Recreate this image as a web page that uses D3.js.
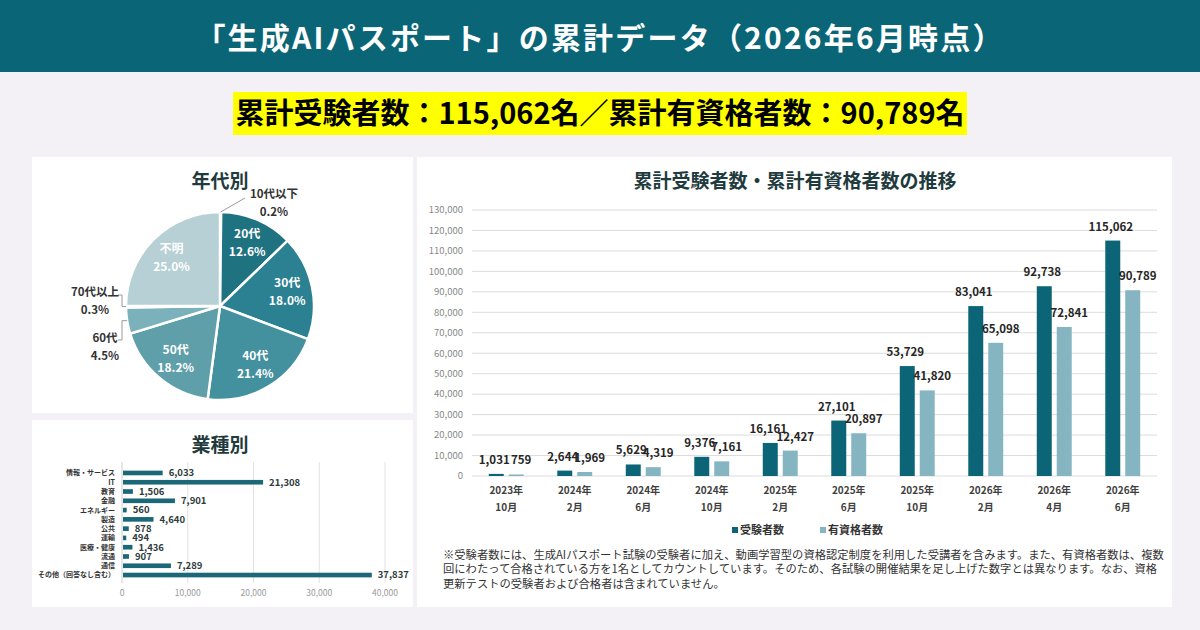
<!DOCTYPE html>
<html lang="ja">
<head>
<meta charset="utf-8">
<script src="https://cdn.jsdelivr.net/npm/d3@7"></script>
<style>
body{margin:0;background:#f3f1f5;}
svg{display:block;font-family:"Noto Sans CJK JP","Noto Sans",sans-serif;}
</style>
</head>
<body>
<svg id="chart" width="1200" height="630"></svg>
<script>
// ---- data ----
var ageLabels = ["10代以下","20代","30代","40代","50代","60代","70代以上","不明"];
var agePercents = [0.2,12.6,18.0,21.4,18.2,4.5,0.3,25.0];
var ageColors = ["#0e5f6e","#1f727f","#2b8191","#43909e","#5e9faa","#7ab1ba","#9cc3ca","#b6d0d6"];

var industryNames = ["情報・サービス","IT","教育","金融","エネルギー","製造","公共","運輸","医療・健康","流通","通信","その他（回答なし含む）"];
var industryCounts = [6033,21308,1506,7901,560,4640,878,494,1436,907,7289,37837];
var industryTicks = [0,10000,20000,30000,40000];

var periodYears = ["2023年","2024年","2024年","2024年","2025年","2025年","2025年","2026年","2026年","2026年"];
var periodMonths = ["10月","2月","6月","10月","2月","6月","10月","2月","4月","6月"];
var examinees = [1031,2644,5629,9376,16161,27101,53729,83041,92738,115062];
var qualified = [759,1969,4319,7161,12427,20897,41820,65098,72841,90789];
var seriesNames = ["受験者数","有資格者数"];
var seriesColors = ["#0b6577","#85b5c1"];

var noteLines = [
  "※受験者数には、生成AIパスポート試験の受験者に加え、動画学習型の資格認定制度を利用した受講者を含みます。また、有資格者数は、複数",
  "回にわたって合格されている方を1名としてカウントしています。そのため、各試験の開催結果を足し上げた数字とは異なります。なお、資格",
  "更新テストの受験者および合格者は含まれていません。"
];

var fmt = d3.format(",");
var titleColor = "#1f3b3e";

function main(){
    var svg = d3.select("#chart");

    // header
    svg.append("rect").attr("x",0).attr("y",0).attr("width",1200).attr("height",72).attr("fill","#0a6577");
    svg.append("text").attr("x",600).attr("y",38).attr("dy","0.35em")
        .attr("text-anchor","middle").attr("fill","#fff").attr("font-weight",700).attr("font-size","30px")
        .attr("letter-spacing","2.2px")
        .text("「生成AIパスポート」の累計データ（2026年6月時点）");

    // highlight box
    svg.append("rect").attr("x",233).attr("y",92).attr("width",734).attr("height",43).attr("fill","#ffff00");
    svg.append("text").attr("x",600).attr("y",114).attr("dy","0.35em")
        .attr("text-anchor","middle").attr("fill","#000").attr("font-weight",700).attr("font-size","29px")
        .text("累計受験者数：" + fmt(examinees[examinees.length-1]) + "名／累計有資格者数：" + fmt(qualified[qualified.length-1]) + "名");

    // panels
    svg.append("rect").attr("x",32).attr("y",157).attr("width",381).attr("height",256).attr("fill","#fff");
    svg.append("rect").attr("x",32).attr("y",420).attr("width",381).attr("height",187).attr("fill","#fff");
    svg.append("rect").attr("x",417).attr("y",157).attr("width",755).attr("height",450).attr("fill","#fff");

    drawPie(svg);
    drawIndustry(svg);
    drawTrend(svg);
}

function drawPie(svg){
    var cx = 220, cy = 306, r = 94;
    svg.append("text").attr("x",cx).attr("y",181).attr("dy","0.35em").attr("text-anchor","middle")
        .attr("font-weight",700).attr("font-size","19px").attr("fill",titleColor).text("年代別");

    var data = ageLabels.map(function(d,i){ return {label:d, v:agePercents[i], color:ageColors[i]}; });
    var pie = d3.pie().sort(null).value(function(d){ return d.v; });
    var arc = d3.arc().innerRadius(0).outerRadius(r);
    var labelArc = d3.arc().innerRadius(r*0.73).outerRadius(r*0.73);
    var arcs = pie(data);

    var g = svg.append("g").attr("transform","translate("+cx+","+cy+")");
    g.selectAll("path").data(arcs).enter().append("path")
        .attr("d",arc).attr("fill",function(d){ return d.data.color; })
        .attr("stroke","#fff").attr("stroke-width",2.5);

    // inside labels
    arcs.filter(function(d){ return d.data.v > 10; }).forEach(function(d){
        var c = labelArc.centroid(d);
        var t = g.append("text").attr("text-anchor","middle").attr("fill","#fff")
            .attr("font-weight",700).attr("font-size","12px");
        t.append("tspan").attr("x",c[0]).attr("y",c[1]-9).attr("dy","0.35em").text(d.data.label);
        t.append("tspan").attr("x",c[0]).attr("y",c[1]+9).attr("dy","0.35em").text(d.data.v.toFixed(1)+"%");
    });

    // outside labels with leader lines
    arcs.filter(function(d){ return d.data.v <= 10; }).forEach(function(d){
        var a = (d.startAngle + d.endAngle)/2;
        var ex = Math.sin(a)*r, ey = -Math.cos(a)*r;
        var pts, tx, ty;
        if (ex > 0 || Math.abs(ex) < 5) {
            pts = [[ex,ey],[25,-108]];
            tx = 54; ty = -112;
        } else if (ey > 5) {
            pts = [[ex,ey],[-98,ey],[-98,34],[-102,34]];
            tx = -115; ty = 32;
        } else {
            pts = [[ex,ey],[-98,ey],[-98,-11],[-102,-11]];
            tx = -125; ty = -14;
        }
        g.append("path").attr("d",d3.line()(pts)).attr("fill","none").attr("stroke","#9a9a9a").attr("stroke-width",1);
        var t = g.append("text").attr("text-anchor","middle").attr("fill","#333")
            .attr("font-weight",700).attr("font-size","11.5px");
        t.append("tspan").attr("x",tx).attr("y",ty).attr("dy","0.35em").text(d.data.label);
        t.append("tspan").attr("x",tx).attr("y",ty+18).attr("dy","0.35em").text(d.data.v.toFixed(1)+"%");
    });
}

function drawIndustry(svg){
    svg.append("text").attr("x",220).attr("y",445).attr("dy","0.35em").attr("text-anchor","middle")
        .attr("font-weight",700).attr("font-size","19px").attr("fill",titleColor).text("業種別");

    var x = d3.scaleLinear().domain([0,40000]).range([122,385]);
    var y = d3.scaleBand().domain(industryNames).range([466,582]).padding(0.5);

    svg.append("g").selectAll("line").data(industryTicks).enter().append("line")
        .attr("x1",function(d){ return x(d); }).attr("x2",function(d){ return x(d); })
        .attr("y1",462).attr("y2",583)
        .attr("stroke",function(d){ return d === 0 ? "#cfcfcf" : "#e2e2e2"; }).attr("stroke-width",1);

    svg.append("g").selectAll("text").data(industryTicks).enter().append("text")
        .attr("x",function(d){ return x(d); }).attr("y",593).attr("dy","0.35em")
        .attr("text-anchor","middle").attr("font-size","8.5px").attr("fill","#999").text(function(d){ return fmt(d); });

    var rows = industryNames.map(function(n,i){ return {name:n, v:industryCounts[i]}; });
    var g = svg.append("g");
    g.selectAll("rect").data(rows).enter().append("rect")
        .attr("x",x(0)+1).attr("y",function(d){ return y(d.name); })
        .attr("width",function(d){ return x(d.v)-x(0); }).attr("height",y.bandwidth())
        .attr("fill","#1b6878");
    g.selectAll(".cat").data(rows).enter().append("text")
        .attr("x",115).attr("y",function(d){ return y(d.name)+y.bandwidth()/2; }).attr("dy","0.35em")
        .attr("text-anchor","end").attr("font-size","7px").attr("font-weight",700).attr("fill","#333")
        .text(function(d){ return d.name; });
    g.selectAll(".val").data(rows).enter().append("text")
        .attr("x",function(d){ return x(d.v)+7; }).attr("y",function(d){ return y(d.name)+y.bandwidth()/2; }).attr("dy","0.35em")
        .attr("font-size","9.5px").attr("font-weight",700).attr("fill","#2e3b3e")
        .text(function(d){ return fmt(d.v); });
}

function drawTrend(svg){
    svg.append("text").attr("x",795).attr("y",181).attr("dy","0.35em").attr("text-anchor","middle")
        .attr("font-weight",700).attr("font-size","19px").attr("fill",titleColor).text("累計受験者数・累計有資格者数の推移");

    var periods = periodYears.map(function(yv,i){ return yv + periodMonths[i]; });
    var x0 = d3.scaleBand().domain(periods).range([472,1157]).paddingInner(0.49).paddingOuter(0.245);
    var x1 = d3.scaleBand().domain(seriesNames).range([0,x0.bandwidth()]).paddingInner(0.25);
    var y = d3.scaleLinear().domain([0,130000]).range([476,210]);

    // grid + y labels
    var ticks = y.ticks(13);
    svg.append("g").selectAll("line").data(ticks).enter().append("line")
        .attr("x1",472).attr("x2",1157)
        .attr("y1",function(d){ return y(d); }).attr("y2",function(d){ return y(d); })
        .attr("stroke","#dcdcdc").attr("stroke-width",1);
    svg.append("g").selectAll("text").data(ticks).enter().append("text")
        .attr("x",463).attr("y",function(d){ return y(d); }).attr("dy","0.35em")
        .attr("text-anchor","end").attr("font-size","9.5px").attr("fill","#888")
        .text(function(d){ return fmt(d); });

    var rows = periods.map(function(p,i){ return {p:p, i:i, vals:[
        {s:seriesNames[0], v:examinees[i], c:seriesColors[0], shift:-2},
        {s:seriesNames[1], v:qualified[i], c:seriesColors[1], shift:5}]}; });

    var groups = svg.append("g").selectAll("g").data(rows).enter().append("g")
        .attr("transform",function(d){ return "translate("+x0(d.p)+",0)"; });
    groups.selectAll("rect").data(function(d){ return d.vals; }).enter().append("rect")
        .attr("x",function(d){ return x1(d.s); }).attr("width",x1.bandwidth())
        .attr("y",function(d){ return y(d.v); }).attr("height",function(d){ return y(0)-y(d.v); })
        .attr("fill",function(d){ return d.c; });
    groups.selectAll("text.val").data(function(d){ return d.vals; }).enter().append("text")
        .attr("class","val")
        .attr("x",function(d){ return x1(d.s)+x1.bandwidth()/2+d.shift; })
        .attr("y",function(d){ return y(d.v)-10; })
        .attr("text-anchor","middle").attr("font-size","11.5px").attr("font-weight",700).attr("fill","#262626")
        .text(function(d){ return fmt(d.v); });

    // x labels
    var xl = groups.append("text").attr("text-anchor","middle").attr("font-size","10px")
        .attr("font-weight",700).attr("fill","#404040");
    xl.append("tspan").attr("x",x0.bandwidth()/2).attr("y",490).attr("dy","0.35em").text(function(d){ return periodYears[d.i]; });
    xl.append("tspan").attr("x",x0.bandwidth()/2).attr("y",507).attr("dy","0.35em").text(function(d){ return periodMonths[d.i]; });

    // legend
    var legX = [732,820];
    var leg = svg.append("g").selectAll("g").data(seriesNames).enter().append("g")
        .attr("transform",function(d,i){ return "translate("+legX[i]+",530)"; });
    leg.append("rect").attr("x",0).attr("y",-3).attr("width",6).attr("height",6)
        .attr("fill",function(d,i){ return seriesColors[i]; });
    leg.append("text").attr("x",8).attr("y",0).attr("dy","0.35em").attr("font-size","11px")
        .attr("font-weight",700).attr("fill","#333").text(function(d){ return d; });

    // footnote
    svg.append("g").selectAll("text").data(noteLines).enter().append("text")
        .attr("x",443).attr("y",function(d,i){ return 555 + i*14.5; }).attr("dy","0.35em")
        .attr("font-size","11.3px").attr("fill","#333").text(function(d){ return d; });
}

main();
</script>
</body>
</html>
